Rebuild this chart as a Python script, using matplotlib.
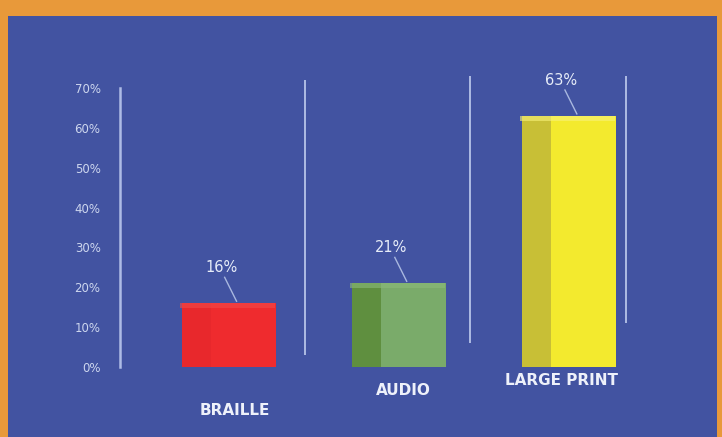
"""Survey chart: preferred reading format (3D-style bars on blue panel)"""
import matplotlib

matplotlib.use("Agg")
import matplotlib.pyplot as plt
import numpy as np
from matplotlib.ticker import PercentFormatter

# ===== data
categories = ["BRAILLE", "AUDIO", "LARGE PRINT"]
shares = [0.16, 0.21, 0.63]
value_labels = ["16%", "21%", "63%"]
y_ticks = [0.0, 0.1, 0.2, 0.3, 0.4, 0.5, 0.6, 0.7]

# ===== style
front_colors = ["#ef2b2e", "#7aab6a", "#f3ea2e"]
side_colors = ["#e8282c", "#5f8f3f", "#c8bf36"]
top_colors = ["#f24a4a", "#8cbb7a", "#f8f27a"]
blue = "#4253a1"
orange = "#e8993a"
light = "#cdd6ee"


def main():
    fig = plt.figure(figsize=(7.22, 4.37), dpi=100, facecolor=orange)
    # blue panel inside the orange frame
    bg = fig.add_axes([8 / 722, 0, 709 / 722, 421 / 437])
    bg.set_facecolor(blue)
    bg.set_xticks([])
    bg.set_yticks([])
    for s in bg.spines.values():
        s.set_visible(False)
    bg.set_zorder(0)

    # axes: 0% at y=367px, 70% at y=88px, left axis at x=120px
    ax = fig.add_axes([120 / 722, (437 - 367) / 437, 530 / 722, 279 / 437])
    ax.set_zorder(1)
    ax.set_facecolor("none")
    ax.set_xlim(-0.635, 2.48)
    ax.set_ylim(0, 0.7)

    x = np.arange(len(categories))
    vals = np.array(shares)

    # side face, front face, thin top face
    ax.bar(x - 0.185, vals, width=0.17, color=side_colors, zorder=3)
    ax.bar(x + 0.09, vals, width=0.38, color=front_colors, zorder=3)
    ax.bar(x - 0.005, 0.012, bottom=vals - 0.012, width=0.56,
           color=top_colors, zorder=4, alpha=0.6)

    # value labels with little leader lines
    for xi, v, lab in zip(x, vals, value_labels):
        ax.text(xi - 0.04, v + 0.09, lab, ha="center", va="center",
                color="#e6ecf8", fontsize=10.5, clip_on=False)
        ax.plot([xi - 0.02, xi + 0.05], [v + 0.065, v + 0.005],
                color="#a9b8e0", lw=1.0, zorder=5, clip_on=False)

    # category labels under the bars
    label_y = [-0.11, -0.06, -0.035]
    label_dx = [0.04, 0.03, -0.04]
    for xi, cat, ly, dx in zip(x, categories, label_y, label_dx):
        ax.text(xi + dx, ly, cat, ha="center", va="center", color="#eef1fa",
                fontsize=11, fontweight="bold", clip_on=False)

    # back wall lines
    ax.vlines([0.45, 1.42, 2.34], [0.03, 0.06, 0.11], [0.72, 0.73, 0.73],
              color="#b7c3e8", lw=1.3, clip_on=False, zorder=2)

    # axis
    for side in ["top", "right", "bottom"]:
        ax.spines[side].set_visible(False)
    ax.spines["left"].set_color("#aebce6")
    ax.spines["left"].set_linewidth(1.8)
    ax.set_xticks([])
    ax.set_yticks(y_ticks)
    ax.yaxis.set_major_formatter(PercentFormatter(1.0, decimals=0))
    ax.tick_params(axis="y", length=0, pad=14, labelsize=8.5, labelcolor=light)

    fig.savefig("out.png", dpi=100, facecolor=orange)


if __name__ == "__main__":
    main()
